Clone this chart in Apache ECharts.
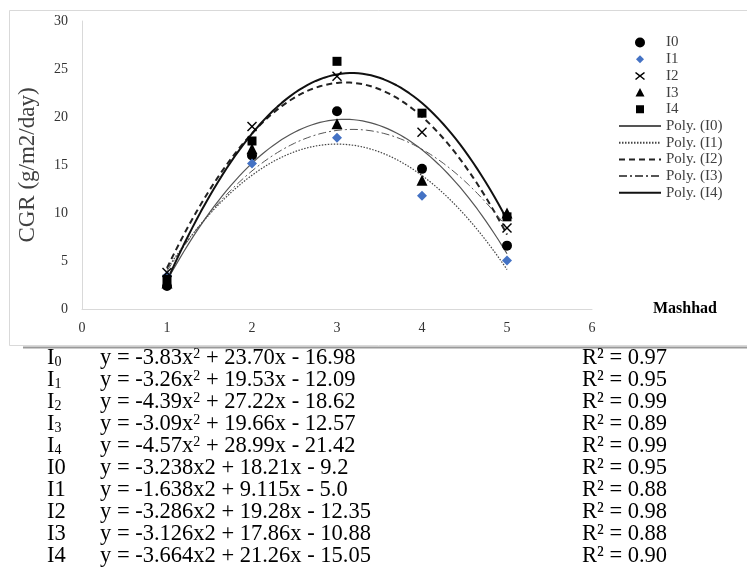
<!DOCTYPE html>
<html><head><meta charset="utf-8">
<script src="https://cdn.jsdelivr.net/npm/echarts@6/dist/echarts.min.js"></script>
<style>html,body{margin:0;padding:0;background:#fff}#c{width:747px;height:567px}</style>
</head><body><div id="c"></div>
<script>
// ---- data ----
const xValues = [1, 2, 3, 4, 5];
const seriesNames = ['I0', 'I1', 'I2', 'I3', 'I4'];
const I0 = [2.4, 16.0, 20.6, 14.6, 6.6];
const I1 = [3.45, 15.15, 17.85, 11.8, 5.05];
const I2 = [3.8, 19.0, 24.25, 18.4, 8.45];
const I3 = [2.7, 16.7, 19.3, 13.4, 10.0];
const I4 = [3.1, 17.5, 25.8, 20.4, 9.6];
const seriesValues = [I0, I1, I2, I3, I4];
const trendNames = ['Poly. (I0)', 'Poly. (I1)', 'Poly. (I2)', 'Poly. (I3)', 'Poly. (I4)'];

// equation table text (printed under the chart)
const eqLabelSub = ['0', '1', '2', '3', '4'];
const eqA = ['-3.83', '-3.26', '-4.39', '-3.09', '-4.57'];
const eqB = ['23.70', '19.53', '27.22', '19.66', '28.99'];
const eqC = ['16.98', '12.09', '18.62', '12.57', '21.42'];
const eqR2 = ['0.97', '0.95', '0.99', '0.89', '0.99'];
const eq2Labels = ['I0', 'I1', 'I2', 'I3', 'I4'];
const eq2A = ['-3.238', '-1.638', '-3.286', '-3.126', '-3.664'];
const eq2B = ['18.21', '9.115', '19.28', '17.86', '21.26'];
const eq2C = ['9.2', '5.0', '12.35', '10.88', '15.05'];
const eq2R2 = ['0.95', '0.88', '0.98', '0.88', '0.90'];

// ---- quadratic least-squares trend (like Excel "Poly." order 2) ----
function quadFit(xs, ys) {
  let S = [0, 0, 0, 0, 0], T = [0, 0, 0];
  for (let i = 0; i < xs.length; i++) {
    let p = 1;
    for (let k = 0; k < 5; k++) { S[k] += p; if (k < 3) T[k] += p * ys[i]; p *= xs[i]; }
  }
  const M = [[S[0], S[1], S[2]], [S[1], S[2], S[3]], [S[2], S[3], S[4]]];
  const det = m => m[0][0]*(m[1][1]*m[2][2]-m[1][2]*m[2][1]) - m[0][1]*(m[1][0]*m[2][2]-m[1][2]*m[2][0]) + m[0][2]*(m[1][0]*m[2][1]-m[1][1]*m[2][0]);
  const D = det(M);
  return [0, 1, 2].map(j => det(M.map((row, r) => row.map((v, c) => c === j ? T[r] : v))) / D);
}
function trendPoints(ys) {
  const c = quadFit(xValues, ys);
  const pts = [];
  const x0 = xValues[0], x1 = xValues[xValues.length - 1], n = 80;
  for (let i = 0; i <= n; i++) {
    const x = x0 + (x1 - x0) * i / n;
    pts.push([x, c[0] + c[1] * x + c[2] * x * x]);
  }
  return pts;
}

const FONT = 'Liberation Serif';
const crossPath = 'path://M1,0 L5,4 L9,0 L10,1 L6,5 L10,9 L9,10 L5,6 L1,10 L0,9 L4,5 L0,1 Z';
const symbols = ['circle', 'diamond', crossPath, 'triangle', 'rect'];
const symbolSizes = [10, 10, 10, 11, 9];
const markerColors = ['#000000', '#4472C4', '#000000', '#000000', '#000000'];
// legend icons: 42x10 boxes (corner anchors keep the shape unstretched)
const box = 'M0,0 L0,0 Z M42,10 L42,10 Z ';
const legendIcons = [
  'circle',
  'path://' + box + 'M21,1 L25,5 L21,9 L17,5 Z',
  'path://' + box + 'M17,1 L21,4.2 L25,1 L26,2 L22.2,5 L26,8 L25,9 L21,5.8 L17,9 L16,8 L19.8,5 L16,2 Z',
  'path://' + box + 'M21,0.5 L25.5,9 L16.5,9 Z',
  'path://' + box + 'M17,1 L25,1 L25,9 L17,9 Z'
];
const trendStyles = [
  { color: '#555555', width: 1.2, type: 'solid' },
  { color: '#444444', width: 1.2, type: [1.5, 1.5] },
  { color: '#222222', width: 2, type: [6, 4] },
  { color: '#555555', width: 1, type: [8, 3, 2, 3] },
  { color: '#111111', width: 2, type: 'solid' }
];

const series = [];
seriesValues.forEach((ys, i) => {
  series.push({
    name: trendNames[i], type: 'line', data: trendPoints(ys), symbol: 'none', smooth: false,
    lineStyle: trendStyles[i], itemStyle: { color: trendStyles[i].color }, z: 2, silent: true
  });
});
seriesValues.forEach((ys, i) => {
  series.push({
    name: seriesNames[i], type: 'scatter', data: xValues.map((x, k) => [x, ys[k]]),
    symbol: symbols[i], symbolSize: symbolSizes[i], symbolKeepAspect: true,
    itemStyle: { color: markerColors[i], opacity: 1 }, z: 3
  });
});

// ---- equation table as graphic text ----
const rowFont = 22.5, rowH = 22, rowY0 = 358.5;
const graphics = [
  { type: 'rect', silent: true, z: -10, shape: { x: 9.5, y: 10.5, width: 800, height: 335 }, style: { fill: 'none', stroke: '#d9d9d9', lineWidth: 1 } },
  { type: 'line', silent: true, shape: { x1: 23, y1: 347.5, x2: 747, y2: 347.5 }, style: { stroke: '#9a9a9a', lineWidth: 2 } },
  { type: 'text', x: 685, y: 309, style: { text: 'Mashhad', fontFamily: FONT, fontSize: 16, fontWeight: 'bold', fill: '#000', align: 'center', verticalAlign: 'middle' } }
];
const rich = {
  n: { fontFamily: FONT, fontSize: rowFont, lineHeight: rowH, fill: '#000' },
  sub: { fontFamily: FONT, fontSize: 14, lineHeight: 6, verticalAlign: 'bottom', fill: '#000' },
  sup: { fontFamily: FONT, fontSize: 14, lineHeight: 8, verticalAlign: 'top', fill: '#000' }
};
function addRow(i, labelRich, eqRich, r2) {
  const y = rowY0 + rowH * i;
  graphics.push({ type: 'text', x: 47, y: y, style: { text: labelRich, rich: rich, fontFamily: FONT, fontSize: rowFont, fill: '#000', verticalAlign: 'middle' } });
  graphics.push({ type: 'text', x: 100, y: y, style: { text: eqRich, rich: rich, fontFamily: FONT, fontSize: rowFont, fill: '#000', verticalAlign: 'middle' } });
  graphics.push({ type: 'text', x: 582, y: y, style: { text: '{n|R² = ' + r2 + '}', rich: rich, fontFamily: FONT, fontSize: rowFont, fill: '#000', verticalAlign: 'middle' } });
}
for (let i = 0; i < 5; i++) {
  addRow(i, '{n|I}{sub|' + eqLabelSub[i] + '}',
    '{n|y = ' + eqA[i] + 'x}{sup|2}{n| + ' + eqB[i] + 'x - ' + eqC[i] + '}', eqR2[i]);
}
for (let i = 0; i < 5; i++) {
  addRow(5 + i, '{n|' + eq2Labels[i] + '}',
    '{n|y = ' + eq2A[i] + 'x2 + ' + eq2B[i] + 'x - ' + eq2C[i] + '}', eq2R2[i]);
}

const hidden = { color: 'rgba(0,0,0,0)', borderColor: 'rgba(0,0,0,0)', borderWidth: 0, opacity: 0 };
const legendData = seriesNames.map((n, i) => ({ name: n, icon: legendIcons[i] }))
  .concat(trendNames.map(n => ({ name: n, itemStyle: hidden })));

const chart = echarts.init(document.getElementById('c'), null, { renderer: 'canvas' });
chart.setOption({
  animation: false,
  backgroundColor: '#ffffff',
  grid: { left: 82, right: 155, top: 21, bottom: 258 },
  xAxis: {
    type: 'value', min: 0, max: 6, interval: 1,
    axisLine: { show: true, lineStyle: { color: '#d9d9d9', width: 1 } },
    axisTick: { show: false }, splitLine: { show: false },
    axisLabel: { fontFamily: FONT, fontSize: 14, color: '#333333', margin: 12 }
  },
  yAxis: {
    type: 'value', min: 0, max: 30, interval: 5,
    axisLine: { show: true, lineStyle: { color: '#d9d9d9', width: 1 } },
    axisTick: { show: false }, splitLine: { show: false },
    axisLabel: { fontFamily: FONT, fontSize: 14, color: '#333333', margin: 14 },
    name: 'CGR (g/m2/day)', nameLocation: 'middle', nameGap: 43,
    nameTextStyle: { fontFamily: FONT, fontSize: 23, color: '#404040' }
  },
  legend: {
    orient: 'vertical', left: 618, top: 35, itemWidth: 42, itemHeight: 10, itemGap: 1.7,
    selectedMode: false, padding: 0,
    textStyle: { fontFamily: FONT, fontSize: 15, color: '#404040', lineHeight: 15 },
    data: legendData
  },
  series: series,
  graphic: graphics
});
</script></body></html>
